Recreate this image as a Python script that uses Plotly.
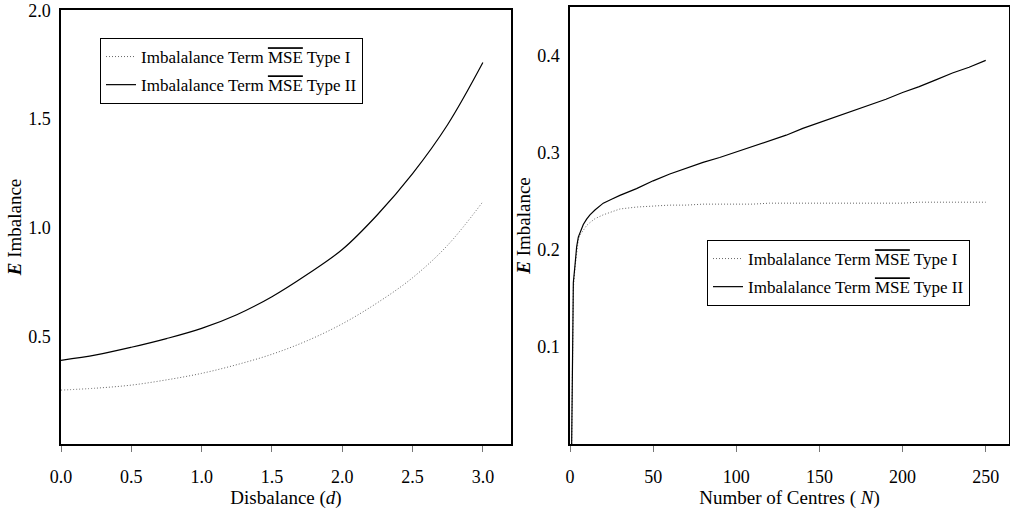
import plotly.graph_objects as go

# ---- left panel data ----
d_vals = [0.0, 0.25, 0.5, 0.75, 1.0, 1.25, 1.5, 1.75, 2.0, 2.25, 2.5, 2.75, 3.0]
left_type1 = [0.253, 0.262, 0.276, 0.300, 0.330, 0.370, 0.418, 0.480, 0.558, 0.655, 0.770, 0.920, 1.120]
left_type2 = [0.390, 0.415, 0.450, 0.490, 0.537, 0.600, 0.683, 0.785, 0.900, 1.060, 1.249, 1.475, 1.760]

# ---- right panel data ----
n_vals = [1, 2, 3, 4, 5, 6, 8, 10, 12, 15, 20, 25, 30, 40, 50, 60, 70, 80, 90, 100,
          110, 120, 130, 140, 150, 160, 170, 180, 190, 200, 210, 220, 230, 240, 250]
right_type1 = [0.0, 0.160, 0.182, 0.200, 0.210, 0.215, 0.220, 0.225, 0.228, 0.232, 0.236, 0.239, 0.242,
               0.244, 0.245, 0.246, 0.246, 0.247, 0.247, 0.247, 0.247, 0.248, 0.248, 0.248, 0.248,
               0.248, 0.248, 0.248, 0.248, 0.248, 0.249, 0.249, 0.249, 0.249, 0.249]
right_type2 = [0.0, 0.166, 0.184, 0.203, 0.213, 0.218, 0.226, 0.2315, 0.236, 0.241, 0.248, 0.252, 0.256,
               0.263, 0.271, 0.278, 0.284, 0.290, 0.295, 0.3007, 0.306, 0.312, 0.318, 0.325, 0.331,
               0.337, 0.343, 0.349, 0.355, 0.362, 0.368, 0.375, 0.382, 0.388, 0.395]

name1 = "Imbalalance Term <span style='text-decoration:overline'>MSE</span> Type I"
name2 = "Imbalalance Term <span style='text-decoration:overline'>MSE</span> Type II"

FONT = "Liberation Serif"
DOT = dict(color="#666666", width=1, dash="1px,2px")

fig = go.Figure()
fig.add_trace(go.Scatter(x=d_vals, y=left_type1, mode="lines", name=name1, line_shape="spline",
                         line=DOT, xaxis="x", yaxis="y", legend="legend", legendgroup="a"))
fig.add_trace(go.Scatter(x=d_vals, y=left_type2, mode="lines", name=name2, line_shape="spline",
                         line=dict(color="black", width=1.2),
                         xaxis="x", yaxis="y", legend="legend", legendgroup="b"))
fig.add_trace(go.Scatter(x=n_vals, y=right_type1, mode="lines", name=name1,
                         line=DOT, xaxis="x2", yaxis="y2", legend="legend2", legendgroup="c"))
fig.add_trace(go.Scatter(x=n_vals, y=right_type2, mode="lines", name=name2,
                         line=dict(color="black", width=1.2),
                         xaxis="x2", yaxis="y2", legend="legend2", legendgroup="d"))

W, H = 1010, 517
ydom_left = [1 - 444 / H, 1 - 10 / H]
ydom_right = [1 - 444 / H, 1 - 7 / H]

axis_common = dict(showline=True, linecolor="black", linewidth=1.5, mirror=True,
                   showgrid=False, zeroline=False, automargin=False, ticklabeloverflow="allow",
                   tickfont=dict(family=FONT, size=18, color="black"))
title_font = dict(family=FONT, size=19, color="black")

fig.update_layout(
    width=W, height=H,
    margin=dict(l=0, r=0, t=0, b=0),
    paper_bgcolor="white", plot_bgcolor="white",
    font=dict(family=FONT, color="black"),
    xaxis=dict(domain=[61 / W, 511 / W], range=[0, 3.2], tickvals=[0, 0.5, 1, 1.5, 2, 2.5, 3],
               tickformat=".1f", ticks="outside", ticklen=6, tickcolor="#777", ticklabelstandoff=10,
               title=dict(text="Disbalance (<i>d</i>)", font=title_font, standoff=0),
               anchor="y", **axis_common),
    yaxis=dict(domain=ydom_left, range=[0.005, 2.002], tickvals=[0.5, 1.0, 1.5, 2.0], tickformat=".1f",
               ticks="outside", ticklen=5, tickcolor="rgba(0,0,0,0)",
               title=dict(text="<em>E</em> Imbalance", font=title_font, standoff=2),
               anchor="x", **axis_common),
    xaxis2=dict(domain=[570 / W, 1009 / W], range=[0, 264], tickvals=[0, 50, 100, 150, 200, 250],
                ticks="outside", ticklen=6, tickcolor="#777", ticklabelstandoff=10,
                title=dict(text="Number of Centres ( <i>N</i>)", font=title_font, standoff=0),
                anchor="y2", **axis_common),
    yaxis2=dict(domain=ydom_right, range=[0, 0.45], tickvals=[0.1, 0.2, 0.3, 0.4], tickformat=".1f",
                ticks="outside", ticklen=5, tickcolor="rgba(0,0,0,0)",
                title=dict(text="<em>E</em> Imbalance", font=title_font, standoff=2),
                anchor="x2", **axis_common),
    legend=dict(x=100 / W, y=1 - 38 / H, xanchor="left", yanchor="top",
                bordercolor="black", borderwidth=1, bgcolor="white",
                font=dict(family=FONT, size=17), tracegroupgap=3, traceorder="grouped"),
    legend2=dict(x=707 / W, y=1 - 240 / H, xanchor="left", yanchor="top",
                 bordercolor="black", borderwidth=1, bgcolor="white",
                 font=dict(family=FONT, size=17), tracegroupgap=3, traceorder="grouped"),
)

fig.write_html("out.html")
